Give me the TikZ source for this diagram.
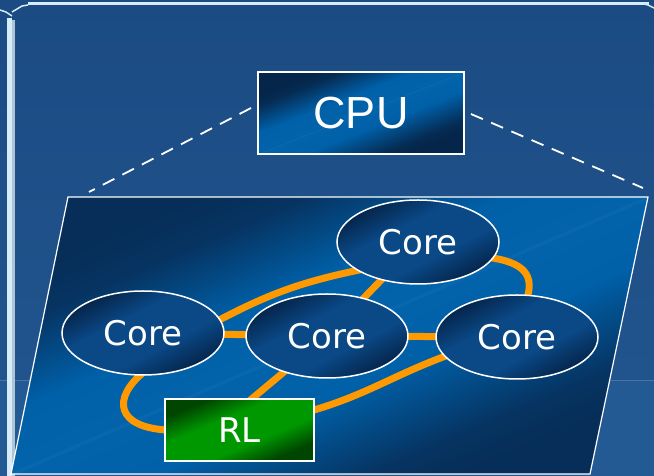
\documentclass[tikz,border=0pt]{standalone}
\usepackage{fontspec}
\newfontfamily\cpulabelfont{Liberation Sans}
\newfontfamily\corelabelfont{DejaVu Sans}
\usetikzlibrary{shapes.geometric,calc}

\definecolor{bgtop}{HTML}{1C4B83}
\definecolor{bgbot}{HTML}{22568F}
\definecolor{bglow}{HTML}{245A93}
\definecolor{seamline}{HTML}{4A74A2}
\definecolor{framelight}{HTML}{D6ECF8}
\definecolor{framegrey}{HTML}{AFC4D4}
\definecolor{linkorange}{HTML}{FF9900}

% glossy diagonal fills: dark corners, broad bright band with a faint streak
\pgfdeclareverticalshading{chipgloss}{100bp}{%
  color(0bp)=(rgb,255:red,6;green,46;blue,88);
  color(25bp)=(rgb,255:red,6;green,46;blue,88);
  color(30bp)=(rgb,255:red,6;green,52;blue,98);
  color(42bp)=(rgb,255:red,0;green,96;blue,168);
  color(49.6bp)=(rgb,255:red,2;green,99;blue,170);
  color(50bp)=(rgb,255:red,10;green,104;blue,174);
  color(50.4bp)=(rgb,255:red,2;green,99;blue,170);
  color(58bp)=(rgb,255:red,0;green,96;blue,168);
  color(69bp)=(rgb,255:red,6;green,52;blue,98);
  color(75bp)=(rgb,255:red,6;green,46;blue,88);
  color(100bp)=(rgb,255:red,6;green,46;blue,88)}
\pgfdeclareverticalshading{cpugloss}{100bp}{%
  color(0bp)=(rgb,255:red,5;green,38;blue,74);
  color(25bp)=(rgb,255:red,5;green,38;blue,74);
  color(29bp)=(rgb,255:red,5;green,44;blue,84);
  color(42bp)=(rgb,255:red,0;green,96;blue,168);
  color(49.6bp)=(rgb,255:red,2;green,98;blue,170);
  color(50bp)=(rgb,255:red,14;green,106;blue,178);
  color(50.4bp)=(rgb,255:red,2;green,98;blue,170);
  color(59bp)=(rgb,255:red,0;green,96;blue,168);
  color(71bp)=(rgb,255:red,5;green,44;blue,84);
  color(75bp)=(rgb,255:red,5;green,38;blue,74);
  color(100bp)=(rgb,255:red,5;green,38;blue,74)}
\pgfdeclareverticalshading{coregloss}{100bp}{%
  color(0bp)=(rgb,255:red,5;green,38;blue,76);
  color(25bp)=(rgb,255:red,5;green,38;blue,76);
  color(40bp)=(rgb,255:red,10;green,72;blue,134);
  color(60bp)=(rgb,255:red,10;green,72;blue,134);
  color(75bp)=(rgb,255:red,5;green,38;blue,76);
  color(100bp)=(rgb,255:red,5;green,38;blue,76)}
\pgfdeclareverticalshading{rlgloss}{100bp}{%
  color(0bp)=(rgb,255:red,0;green,70;blue,0);
  color(25bp)=(rgb,255:red,0;green,70;blue,0);
  color(40bp)=(rgb,255:red,0;green,152;blue,0);
  color(60bp)=(rgb,255:red,0;green,152;blue,0);
  color(75bp)=(rgb,255:red,0;green,70;blue,0);
  color(100bp)=(rgb,255:red,0;green,70;blue,0)}

\pgfdeclarelayer{backdrop}
\pgfdeclarelayer{links}
\pgfsetlayers{backdrop,links,main}

% a diagonal gloss stretched over a whole box, so its streak runs corner to corner
% #1 centre coordinate, #2 half width, #3 half height, #4 shading
\newcommand\glossfill[4]{%
  \pgfmathsetmacro\glossxs{#2/100}%
  \pgfmathsetmacro\glossys{#3/100}%
  \shade[shading=#4, shading angle=45,
    transform canvas={shift={(#1)}, xscale=\glossxs, yscale=\glossys}]
    (-100pt,-100pt) rectangle (100pt,100pt);}
\newcommand\glossyoval[4]{%
  \begin{scope}
    \clip (#1) ellipse [x radius=#2, y radius=#3];
    \glossfill{#1}{#2}{#3}{#4}
  \end{scope}}
\newcommand\glossyrect[4]{%
  \begin{scope}
    \clip ($(#1)+(-#2,-#3)$) rectangle ($(#1)+(#2,#3)$);
    \glossfill{#1}{#2}{#3}{#4}
  \end{scope}}

\tikzset{
  corenode/.style={ellipse, draw=white, line width=1.5pt,
    minimum width=162pt, minimum height=84pt, inner sep=0pt,
    text=white, font=\corelabelfont\fontsize{34}{34}\selectfont},
  cpunode/.style={rectangle, draw=white, line width=1.8pt,
    minimum width=206pt, minimum height=82pt, inner sep=0pt,
    text=white, font=\cpulabelfont\fontsize{45}{45}\selectfont},
  rlnode/.style={rectangle, draw=white, line width=1.8pt,
    minimum width=149pt, minimum height=62pt, inner sep=0pt,
    text=white, font=\corelabelfont\fontsize{34}{34}\selectfont},
  link/.style={draw=linkorange, line width=7pt},
  zoomline/.style={draw=white, line width=1.8pt, dash pattern=on 13pt off 9pt},
}

\begin{document}
\begin{tikzpicture}[x=1pt,y=1pt]
\useasboundingbox (0,0) rectangle (654,476);

% slide backdrop and frame
\begin{pgfonlayer}{backdrop}
  \shade[top color=bgtop, bottom color=bgbot] (0,0) rectangle (654,476);
  \fill[bglow] (0,0) rectangle (654,96);
  \draw[seamline, line width=0.8pt] (0,96) -- (654,96);
  \fill[framelight] (7,0) rectangle (12,458);
  \fill[framegrey] (12,0) rectangle (15,456);
  \draw[framelight, line width=1.5pt] (0,466) -- (6,464) -- (12,460);
  \draw[framelight, line width=1.5pt] (12,464) -- (22,470) -- (28,471);
  \fill[framelight] (28,471) rectangle (649,474);
  \draw[framelight, line width=1.5pt] (640,473) -- (648,471) -- (654,468);

  % enlarged chip face
  \coordinate (pBL) at (11,2);
  \coordinate (pTL) at (68,279);
  \coordinate (pTR) at (648,279);
  \coordinate (pBR) at (590,2);
  \coordinate (pMid) at (329.5,140.5);
  \begin{scope}
    \clip (pBL) -- (pTL) -- (pTR) -- (pBR) -- cycle;
    \glossfill{pMid}{318.5}{138.5}{chipgloss}
  \end{scope}
  \draw[white, line width=1.2pt] (pBL) -- (pTL) -- (pTR) -- (pBR) -- cycle;
\end{pgfonlayer}

% component positions
\coordinate (cpuC) at (361,363);
\coordinate (Tc) at (418,234);
\coordinate (Lc) at (143,143);
\coordinate (Mc) at (327,140);
\coordinate (Rc) at (517,139);
\coordinate (RLc) at (239.5,46);

% glossy fills under the outlined components
\glossyrect{cpuC}{103}{41}{cpugloss}
\glossyoval{Tc}{81}{42}{coregloss}
\glossyoval{Lc}{81}{42}{coregloss}
\glossyoval{Mc}{81}{42}{coregloss}
\glossyoval{Rc}{81}{42}{coregloss}
\glossyrect{RLc}{74.5}{31}{rlgloss}

% components
\node[cpunode] (cpu) at (cpuC) {CPU};
\node[corenode] (T) at (Tc) {Core};
\node[corenode] (L) at (Lc) {Core};
\node[corenode] (M) at (Mc) {Core};
\node[corenode] (R) at (Rc) {Core};
\node[rlnode] (RL) at (RLc) {RL};

% zoom lines from the CPU to the chip face
\draw[zoomline] ([xshift=-6pt,yshift=5pt]cpu.west) -- ([xshift=21pt,yshift=5pt]pTL);
\draw[zoomline] ([xshift=6pt,yshift=-1pt]cpu.east) -- ([xshift=-5pt,yshift=9pt]pTR);

% ring interconnect
\begin{pgfonlayer}{links}
  \draw[link] (L.center) -- (M.center);
  \draw[link] (M.center) -- (R.center);
  \draw[link] (T.center) -- (M.center);
  \draw[link] (M.center) -- ([xshift=-25pt]RL.center);
  \draw[link, shorten <=-6pt, shorten >=-6pt] (L.10) to[bend left=8] (T.205);
  \draw[link, shorten <=-6pt, shorten >=-6pt] (T.-12) .. controls (525,214) and (535,200) .. (R.75);
  \draw[link, shorten <=-6pt, shorten >=-6pt] (L.-95) .. controls (112,78) and (115,48) .. (RL.west);
  \draw[link, shorten <=-6pt, shorten >=-6pt] (R.195) to[out=200, in=16] (RL.15);
\end{pgfonlayer}
\end{tikzpicture}
\end{document}
